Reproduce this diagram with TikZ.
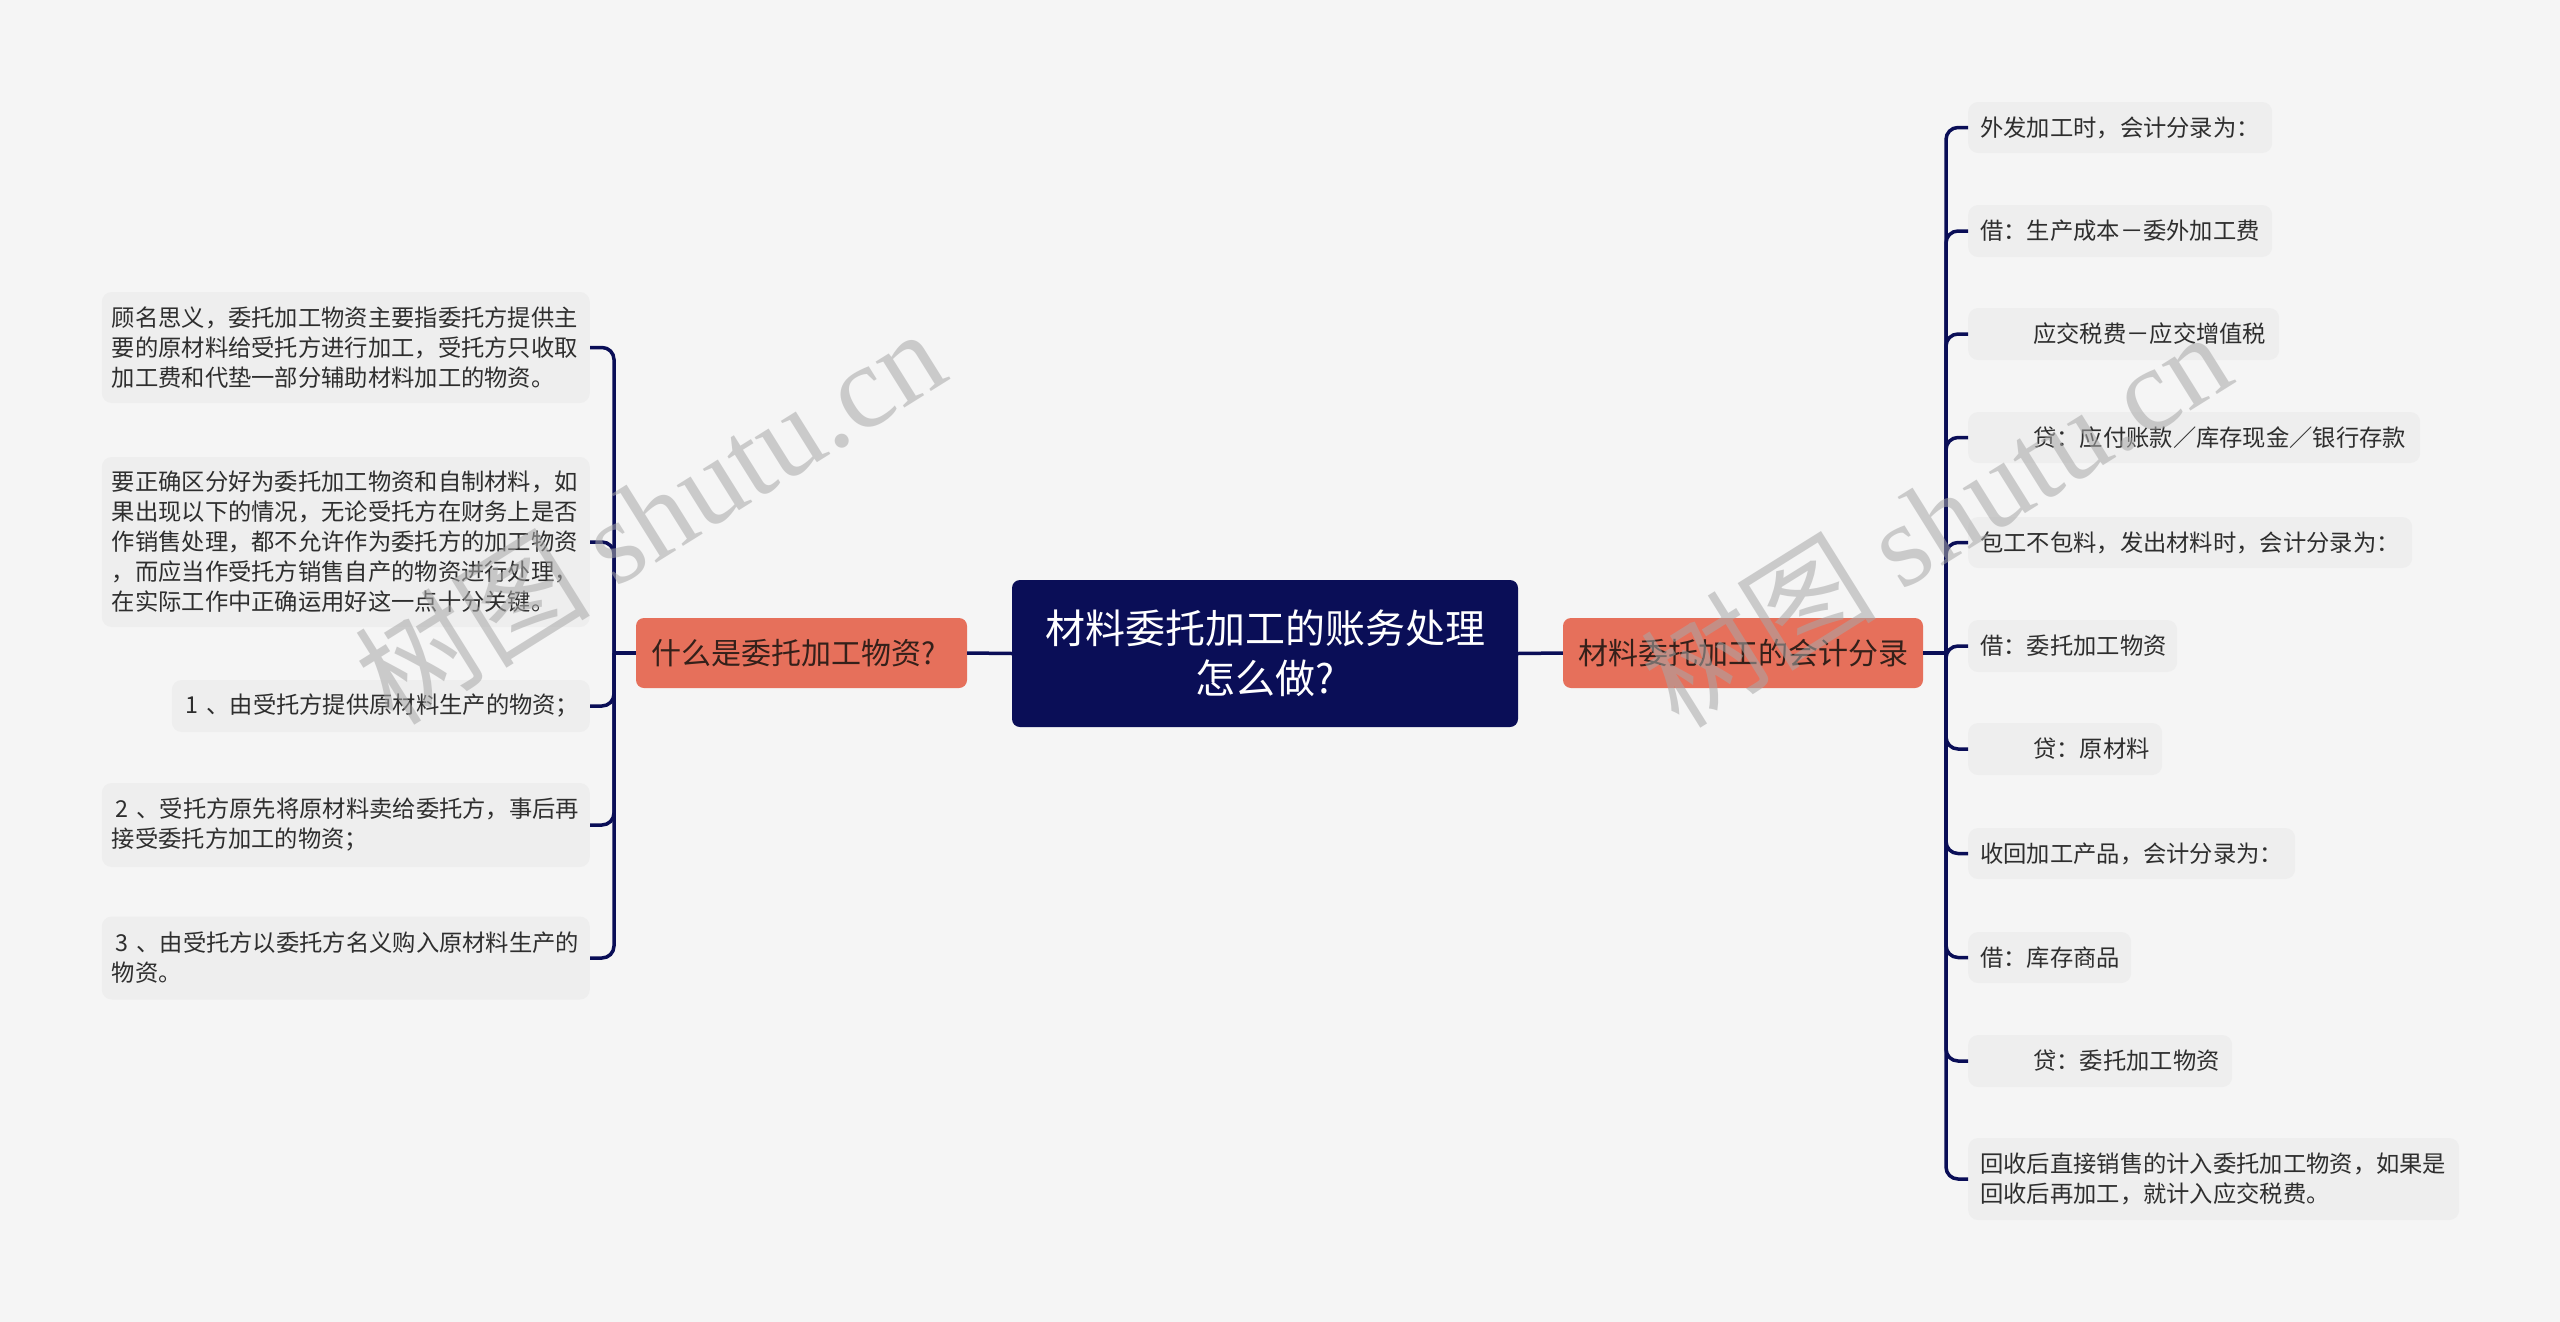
\documentclass[tikz,border=0pt]{standalone}
\usepackage{fontspec}
\setmainfont{Noto Sans CJK SC}
\newfontfamily\wmserif{Liberation Serif}
\definecolor{bg}{HTML}{F5F5F5}
\definecolor{leaffill}{HTML}{EEEEEE}
\definecolor{leaftext}{HTML}{2E2E2E}
\definecolor{navy}{HTML}{0A0E57}
\definecolor{coral}{HTML}{E6705B}
\definecolor{coraltext}{HTML}{34201A}
\definecolor{wmgray}{HTML}{A8A8A8}
\begin{document}
\begin{tikzpicture}[x=1pt,y=-1pt,
  conn/.style={draw=navy, line width=3.5pt, rounded corners=12pt},
  leafL/.style={rectangle, rounded corners=10pt, fill=leaffill, text=leaftext,
    font=\fontsize{23.3}{30}\selectfont, inner xsep=10pt, inner ysep=0pt, align=left, anchor=east},
  leafR/.style={rectangle, rounded corners=10pt, fill=leaffill, text=leaftext,
    font=\fontsize{23.3}{30}\selectfont, inner xsep=12pt, inner ysep=0pt, align=left, anchor=west},
  branchbox/.style={rectangle, rounded corners=8pt, fill=coral, text=coraltext,
    font=\fontsize{30}{36}\selectfont, inner sep=0pt, minimum height=70pt},
  centerbox/.style={rectangle, rounded corners=8pt, fill=navy, text=white,
    font=\fontsize{40}{50}\selectfont, inner sep=0pt, align=center,
    minimum width=506pt, minimum height=147pt},
  watermark/.style={rotate=32, text=wmgray, opacity=0.55, font=\fontsize{118}{118}\selectfont}
]
\useasboundingbox (0,0) rectangle (2560,1322);
\fill[bg] (0,0) rectangle (2560,1322);

% center and branches
\node[centerbox] (C) at (1265,653.5) {材料委托加工的账务处理\\怎么做?};
\node[branchbox, minimum width=331pt] (BL) at (801.5,653) {什么是委托加工物资?\hspace*{16pt}};
\node[branchbox, minimum width=360pt] (BR) at (1743,653) {材料委托加工的会计分录};

\coordinate (JL) at (614,653);
\coordinate (JR) at (1946,653);

\draw[conn] (C.west) -- (BL.east);
\draw[conn] (C.east) -- (BR.west);
\draw[conn] (BL.west) -- (JL);
\draw[conn] (BR.east) -- (JR);

% left leaves
\node[leafL, minimum width=488pt, minimum height=111pt, text width=468pt] (L1) at (590,347.5)
 {顾名思义，委托加工物资主要指委托方提供主\\要的原材料给受托方进行加工，受托方只收取\\加工费和代垫一部分辅助材料加工的物资。};
\node[leafL, minimum width=488pt, minimum height=170pt, text width=468pt] (L2) at (590,542)
 {要正确区分好为委托加工物资和自制材料，如\\果出现以下的情况，无论受托方在财务上是否\\作销售处理，都不允许作为委托方的加工物资\\，而应当作受托方销售自产的物资进行处理，\\在实际工作中正确运用好这一点十分关键。};
\node[leafL, minimum width=418pt, minimum height=52pt, text width=398pt] (L3) at (590,706)
 {\hspace*{4pt}1 、由受托方提供原材料生产的物资；};
\node[leafL, minimum width=488pt, minimum height=84pt, text width=468pt] (L4) at (590,825)
 {\hspace*{4pt}2 、受托方原先将原材料卖给委托方，事后再\\接受委托方加工的物资；};
\node[leafL, minimum width=488pt, minimum height=83pt, text width=468pt] (L5) at (590,958)
 {\hspace*{4pt}3 、由受托方以委托方名义购入原材料生产的\\物资。};

\foreach \n in {L1,L2,L3,L4,L5} \draw[conn] (JL) |- (\n.east);

% right leaves
\node[leafR, minimum width=304pt, minimum height=51pt, text width=280pt] (R1) at (1968,127.5) {外发加工时，会计分录为：};
\node[leafR, minimum width=304pt, minimum height=52pt, text width=280pt] (R2) at (1968,231) {借：生产成本－委外加工费};
\node[leafR, minimum width=311pt, minimum height=52pt, text width=287pt] (R3) at (1968,334) {\hspace*{53pt}应交税费－应交增值税};
\node[leafR, minimum width=452pt, minimum height=51pt, text width=428pt] (R4) at (1968,437.5) {\hspace*{53pt}贷：应付账款／库存现金／银行存款};
\node[leafR, minimum width=444pt, minimum height=51pt, text width=420pt] (R5) at (1968,542.5) {包工不包料，发出材料时，会计分录为：};
\node[leafR, minimum width=209pt, minimum height=52pt, text width=185pt] (R6) at (1968,646) {借：委托加工物资};
\node[leafR, minimum width=194pt, minimum height=52pt, text width=170pt] (R7) at (1968,749) {\hspace*{53pt}贷：原材料};
\node[leafR, minimum width=327pt, minimum height=51pt, text width=303pt] (R8) at (1968,853.5) {收回加工产品，会计分录为：};
\node[leafR, minimum width=163pt, minimum height=51pt, text width=139pt] (R9) at (1968,957.5) {借：库存商品};
\node[leafR, minimum width=264pt, minimum height=52pt, text width=240pt] (R10) at (1968,1061) {\hspace*{53pt}贷：委托加工物资};
\node[leafR, minimum width=491pt, minimum height=82pt, text width=467pt] (R11) at (1968,1179) {回收后直接销售的计入委托加工物资，如果是\\回收后再加工，就计入应交税费。};

\foreach \n in {R1,R2,R3,R4,R5,R6,R7,R8,R9,R10,R11} \draw[conn] (JR) |- (\n.west);

% watermarks
\node[watermark] (W1) at (649,515) {树图 {\wmserif shutu.cn}};
\node[watermark] (W2) at (1935,518) {树图 {\wmserif shutu.cn}};
\end{tikzpicture}
\end{document}
